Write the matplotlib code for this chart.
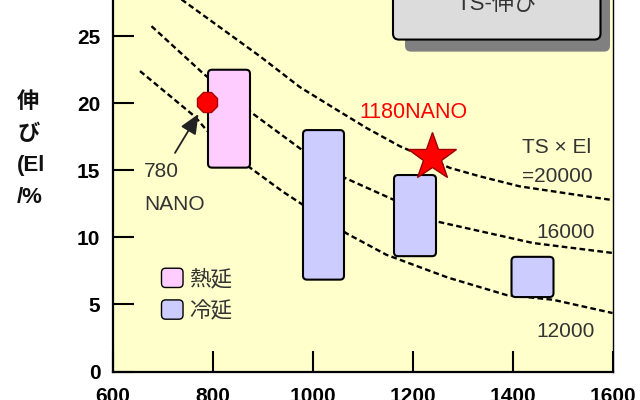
import matplotlib
matplotlib.use("Agg")
import matplotlib.pyplot as plt
from matplotlib.patches import FancyBboxPatch, Patch
from matplotlib.legend_handler import HandlerPatch

plt.rcParams["font.family"] = ["Liberation Sans", "Noto Sans CJK JP"]

# iso TSxEl guide curves
c12000_ts = [654, 764, 787, 874, 940, 1067, 1147, 1270, 1387, 1480, 1599]
c12000_el = [22.4, 19.0, 18.0, 15.2, 13.4, 10.3, 8.7, 7.0, 5.7, 5.35, 4.36]
c16000_ts = [677, 781, 877, 977, 1064, 1161, 1247, 1440, 1599]
c16000_el = [25.75, 22.2, 19.3, 16.55, 14.43, 12.81, 11.19, 9.58, 8.84]
c20000_ts = [737, 894, 974, 1041, 1107, 1174, 1274, 1334, 1414, 1481, 1547, 1594]
c20000_el = [27.74, 23.5, 21.2, 19.66, 18.16, 16.79, 15.18, 14.55, 13.8, 13.43, 13.06, 12.81]

# steel grade ranges: (TS low, TS high), (El low, El high)
hot_ts = [(790, 874)]
hot_el = [(15.2, 22.5)]
cold_ts = [(980, 1062), (1162, 1246), (1397, 1481)]
cold_el = [(6.85, 18.0), (8.6, 14.65), (5.55, 8.55)]

nano780 = (788, 20.1)
nano1180 = (1237, 16.0)

xticks = [600, 800, 1000, 1200, 1400, 1600]
yticks = [0, 5, 10, 15, 20, 25]
ylabel_lines = ["伸", "び", "(El", "/%"]

PINK = "#FFCCFF"
BLUE = "#CCCCFF"
TXT = "#333333"

fig = plt.figure(figsize=(6.4, 4.0), dpi=100)
ax = fig.add_axes([113 / 640, 28.5 / 400, 500 / 640, 371.5 / 400])
ax.set_facecolor("#FFFFCC")
ax.set_xlim(600, 1600)
ax.set_ylim(0, 27.7)

# data units per pixel, used to keep corner rounding circular
ppx = (1000 / 500)
ppy = (27.7 / 371.5)
aspect = ppy / ppx


def rbox(x0, x1, y0, y1, fc, r=8, lw=1.5, ec="black", z=3):
    p = FancyBboxPatch((x0, y0), x1 - x0, y1 - y0,
                       boxstyle=f"round,pad=0,rounding_size={r}",
                       mutation_aspect=aspect, fc=fc, ec=ec, lw=lw, zorder=z)
    ax.add_patch(p)
    return p


for xs, ys in [(c12000_ts, c12000_el), (c16000_ts, c16000_el), (c20000_ts, c20000_el)]:
    ax.plot(xs, ys, color="black", lw=1.7, ls=(0, (2.4, 1.4)), zorder=2)

for (a, b), (lo, hi) in zip(hot_ts, hot_el):
    rbox(a, b, lo, hi, PINK)
for (a, b), (lo, hi) in zip(cold_ts, cold_el):
    rbox(a, b, lo, hi, BLUE)

# title box with shadow
rbox(1184, 1594, 23.85, 30, "#808080", r=12, lw=0, ec="none", z=3)
rbox(1160, 1575, 24.75, 30, "#DCDCDC", r=12, lw=1.5, z=4)
ax.text(1367, 27.35, "TS-伸び", ha="center", va="center", fontsize=16,
        color=TXT, zorder=5)

ax.plot(*nano780, marker="8", ms=15, mfc="#FF0000", mec="#AA0000", mew=1, zorder=6)
ax.plot(*nano1180, marker="*", ms=36, mfc="#FF0000", mec="#990000", mew=1, zorder=6)

ax.text(1200, 19.3, "1180NANO", color="#FF0000", fontsize=15.5,
        ha="center", va="center", zorder=5)
ax.text(662, 13.7, "780\nNANO", color=TXT, fontsize=15, ha="left", va="center",
        linespacing=1.9, zorder=5)
ax.annotate("", xy=(771, 19.2), xytext=(724, 16.3),
            arrowprops=dict(arrowstyle="-|>,head_length=0.8,head_width=0.35",
                            mutation_scale=15, color="#222222", lw=1.3,
                            shrinkA=0, shrinkB=0),
            zorder=5)
ax.text(1418, 15.64, "TS × El\n=20000", color=TXT, fontsize=15, ha="left",
        va="center", linespacing=1.65, zorder=5)
ax.text(1447, 10.33, "16000", color=TXT, fontsize=15, ha="left", va="center", zorder=5)
ax.text(1447, 2.99, "12000", color=TXT, fontsize=15, ha="left", va="center", zorder=5)


def rounded_handle(legend, orig_handle, xdescent, ydescent, width, height, fontsize):
    return FancyBboxPatch((-xdescent, -ydescent), width, height,
                          boxstyle="round,pad=0,rounding_size=3",
                          fc=orig_handle.get_facecolor(), ec="black", lw=1.5)


handles = [Patch(fc=PINK, ec="black"), Patch(fc=BLUE, ec="black")]
leg = ax.legend(handles, ["熱延", "冷延"], loc="upper left",
                bbox_to_anchor=(0.097, 0.278), frameon=False, fontsize=15.5,
                handlelength=1.0, handleheight=1.0, handletextpad=0.3,
                labelspacing=0.45, borderpad=0, borderaxespad=0,
                handler_map={Patch: HandlerPatch(patch_func=rounded_handle)})
for t in leg.get_texts():
    t.set_color(TXT)

for s in ["left", "bottom"]:
    ax.spines[s].set_linewidth(1.6)
ax.spines["right"].set_linewidth(1.0)
ax.spines["top"].set_visible(False)

ax.set_xticks(xticks)
ax.set_yticks(yticks)
ax.tick_params(direction="in", length=15, width=1.5, labelsize=15)
ax.tick_params(axis="y", pad=9)
ax.tick_params(axis="x", pad=11)
for lab in ax.get_xticklabels() + ax.get_yticklabels():
    lab.set_fontweight("bold")

# stacked y axis label, one glyph group per line
for i, line in enumerate(ylabel_lines):
    fig.text(17 / 640, 1 - (102.5 + 31.7 * i) / 400, line, ha="left", va="center",
             fontsize=16, fontweight="bold", color="#111111")

fig.savefig("out.png", dpi=100)
